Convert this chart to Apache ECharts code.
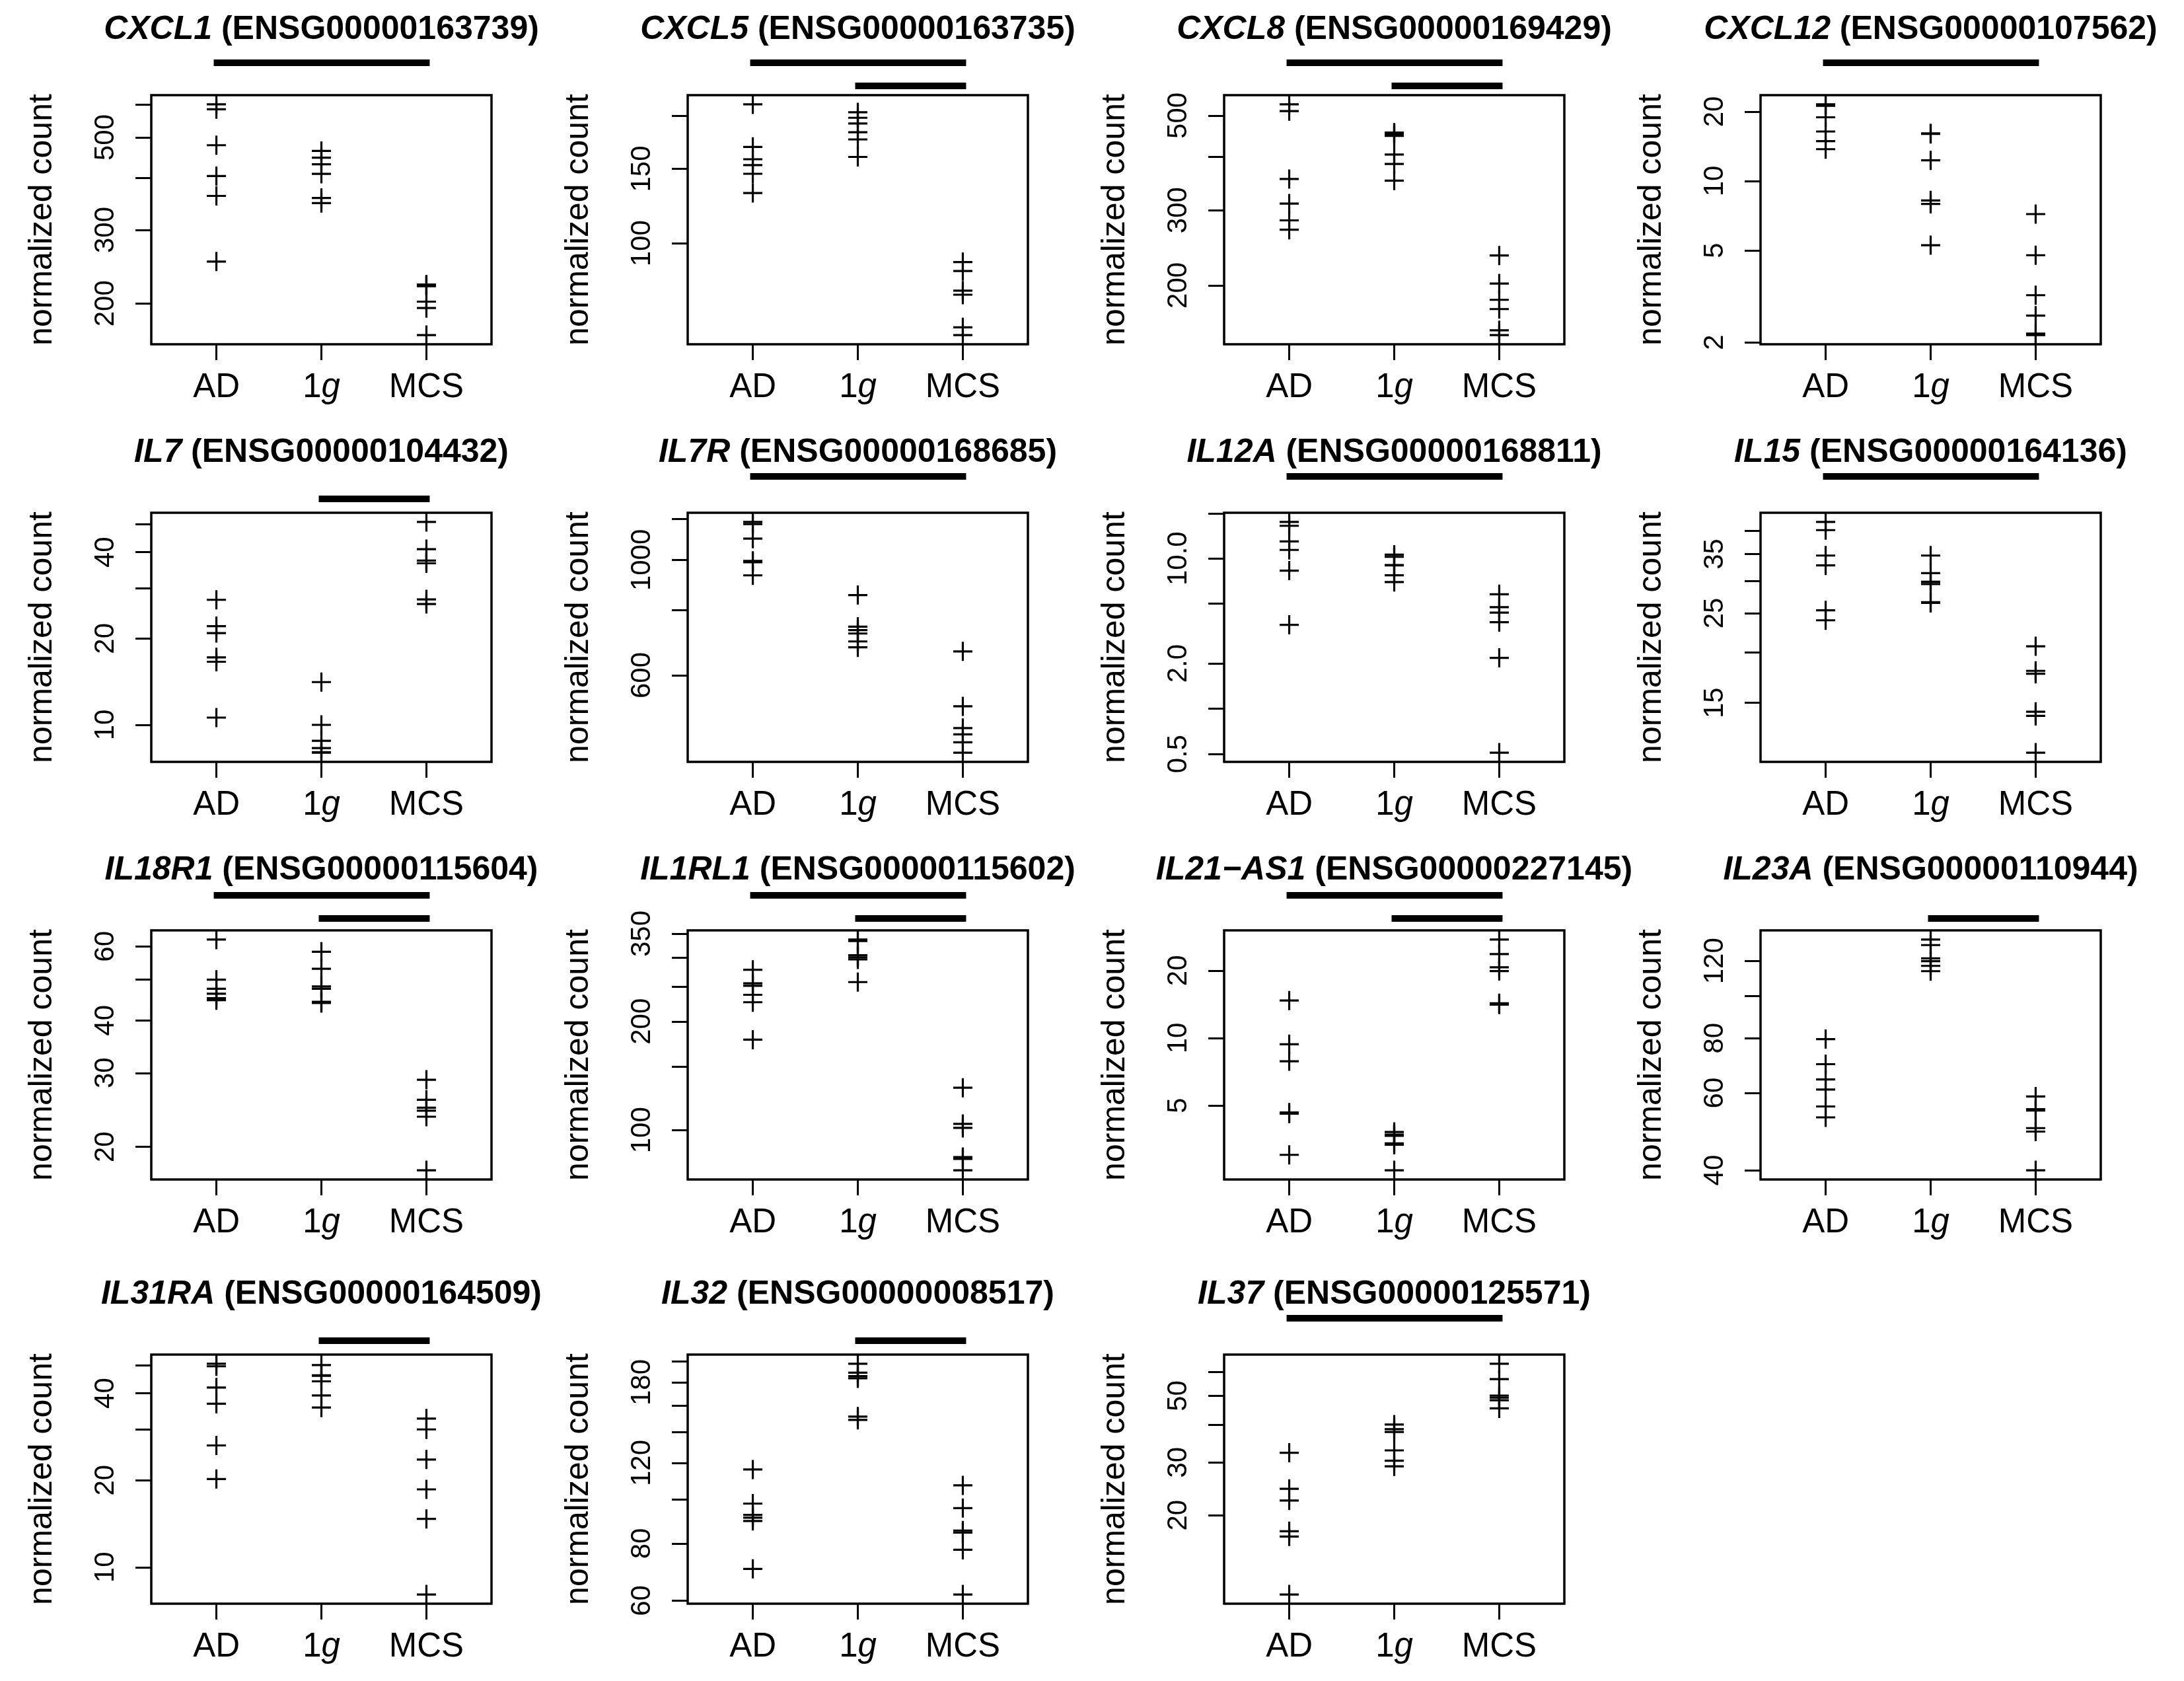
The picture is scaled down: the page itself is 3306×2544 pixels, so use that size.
<!DOCTYPE html>
<html><head><meta charset="utf-8">
<script src="https://cdn.jsdelivr.net/npm/echarts@6/dist/echarts.min.js"></script>
<style>html,body{margin:0;padding:0;background:#fff}#c{width:3306px;height:2544px}</style>
</head><body><div id="c"></div>
<script>
// ---------- data ----------
const groups = ['AD', '1g', 'MCS'];
const genes = ['CXCL1','CXCL5','CXCL8','CXCL12','IL7','IL7R','IL12A','IL15',
               'IL18R1','IL1RL1','IL21\u2212AS1','IL23A','IL31RA','IL32','IL37'];
const ensemblIds = ['ENSG00000163739','ENSG00000163735','ENSG00000169429','ENSG00000107562',
                    'ENSG00000104432','ENSG00000168685','ENSG00000168811','ENSG00000164136',
                    'ENSG00000115604','ENSG00000115602','ENSG00000227145','ENSG00000110944',
                    'ENSG00000164509','ENSG00000008517','ENSG00000125571'];
const adCounts = [
  [600, 584, 479, 404, 362, 252],
  [213, 169, 158, 153, 146, 131.5],
  [531, 512, 355, 311, 284, 270],
  [21.5, 21.2, 18.9, 16.4, 14.9, 13.75],
  [27.3, 22.1, 20.9, 17.2, 16.6, 10.6],
  [1183, 1172, 1099, 996, 990, 934],
  [17.5, 16.5, 13.0, 11.4, 8.3, 3.62],
  [42.0, 40.1, 34.7, 32.8, 25.4, 24.0],
  [62.3, 50.0, 47.6, 46.3, 45.2, 44.7],
  [278, 255, 251, 237, 226, 178],
  [14.7, 9.38, 7.88, 4.65, 4.6, 3.01],
  [79.6, 69.8, 64.4, 61.1, 55.9, 52.8],
  [50.6, 49.6, 41.9, 36.8, 26.4, 20.2],
  [116.1, 97.8, 92.4, 91.1, 89.6, 70.4],
  [32.3, 24.5, 22.4, 17.7, 17.0, 10.9]
];
const oneGCounts = [
  [464, 447, 431, 409, 358, 348],
  [204, 198, 192, 183, 176, 160],
  [456, 453, 448, 405, 385, 352],
  [16.1, 16.0, 12.3, 8.24, 7.96, 5.27],
  [14.1, 10.0, 8.8, 8.3, 8.03, 8.0],
  [856, 744, 733, 722, 697, 679],
  [10.6, 10.25, 9.05, 9.0, 7.73, 6.97],
  [34.7, 31.4, 29.9, 29.5, 26.6, 26.5],
  [58.3, 53.1, 48.2, 47.6, 44.3, 44.0],
  [337, 334, 305, 301, 297, 257],
  [3.81, 3.71, 3.66, 3.39, 3.34, 2.57],
  [134.2, 130.4, 121.6, 119.8, 116.9, 113.7],
  [50.1, 46.2, 46.0, 44.0, 39.3, 35.7],
  [197.6, 189, 185.7, 183.7, 151.5, 149.0],
  [40.1, 38.7, 37.9, 32.9, 30.4, 29.1]
];
const mcsCounts = [
  [222, 221, 220, 202, 195, 168],
  [90.3, 86, 77.3, 75.6, 63.3, 60.7],
  [235, 202, 185, 176, 157, 153],
  [7.19, 4.77, 3.20, 2.61, 2.18, 2.15],
  [51.0, 41.0, 37.4, 36.6, 27.4, 26.4],
  [667, 523, 475, 462, 446, 426],
  [5.78, 4.74, 4.36, 3.77, 2.18, 0.51],
  [20.7, 18.0, 17.7, 14.26, 13.93, 11.3],
  [28.9, 25.9, 24.8, 24.4, 23.6, 17.6],
  [131, 104, 101.4, 84.2, 83.2, 77.4],
  [27.5, 23.7, 20.7, 19.9, 14.3, 14.1],
  [58.9, 55.1, 54.7, 49.9, 49.0, 40.0],
  [32.7, 30.0, 23.6, 18.6, 14.7, 8.05],
  [107.2, 95.6, 85.4, 84.5, 77.5, 61.9],
  [63.9, 56.8, 50.1, 49.3, 48.3, 45.4]
];
const yTicks = [
  [200,300,400,500,600], [100,150,200], [200,300,400,500], [2,5,10,20],
  [10,20,30,40,50], [600,800,1000,1200], [0.5,1,2,5,10,20], [15,20,25,30,35,40],
  [20,30,40,50,60], [100,150,200,250,300,350], [5,10,20], [40,60,80,100,120],
  [10,20,30,40,50], [60,80,100,120,140,160,180,200], [20,30,40,50,60]
];
const yTickLabels = [
  ['200','300','500'], ['100','150'], ['200','300','500'], ['2','5','10','20'],
  ['10','20','40'], ['600','1000'], ['0.5','2.0','10.0'], ['15','25','35'],
  ['20','30','40','60'], ['100','200','350'], ['5','10','20'], ['40','60','80','120'],
  ['10','20','40'], ['60','80','120','180'], ['20','30','50']
];
// significance bars: [from group, to group] (1 = AD, 2 = 1g, 3 = MCS)
const sigBars = [
  [[1,3]], [[1,3],[2,3]], [[1,3],[2,3]], [[1,3]],
  [[2,3]], [[1,3]], [[1,3]], [[1,3]],
  [[1,3],[2,3]], [[1,3],[2,3]], [[1,3],[2,3]], [[2,3]],
  [[2,3]], [[2,3]], [[1,3]]
];

// ---------- layout ----------
const colLeft = [229, 1041, 1853, 2665];
const rowTop = [144, 776, 1408, 2050];
const titleOffset = [99, 91, 91, 91];
const upperBarOffset = [49, 55, 53, 55];
const lowerBarOffset = [14, 21, 18, 21];
const gridW = 515, gridH = 377;
const FONT = 'Liberation Sans, Arial, Helvetica, sans-serif';

const grids = [], xAxes = [], yAxes = [], series = [], titles = [];
const lg = v => Math.log10(v);

genes.forEach((gene, i) => {
  const r = Math.floor(i / 4), c = i % 4;
  const left = colLeft[c], top = rowTop[r];
  grids.push({left: left, top: top, width: gridW, height: gridH, show: true,
    borderColor: '#000', borderWidth: 3.5, backgroundColor: 'transparent', containLabel: false});

  const all = adCounts[i].concat(oneGCounts[i], mcsCounts[i]).map(lg);
  const lo = Math.min(...all), hi = Math.max(...all), pad = (hi - lo) * 0.04;
  const labelVals = yTickLabels[i].map(s => lg(parseFloat(s)));

  xAxes.push({gridIndex: i, type: 'value', min: 0.38, max: 3.62, position: 'bottom',
    axisLine: {show: false, onZero: false}, splitLine: {show: false},
    axisTick: {show: true, customValues: [1,2,3], length: 24, lineStyle: {color: '#000', width: 3}},
    axisLabel: {show: true, customValues: [1,2,3], margin: 40, color: '#000', fontSize: 51, fontFamily: FONT,
      formatter: v => v === 2 ? '1{i|g}' : groups[Math.round(v) - 1],
      rich: {i: {fontStyle: 'italic', fontSize: 51, fontFamily: FONT, color: '#000'}}}
  });
  yAxes.push({gridIndex: i, type: 'value', min: lo - pad, max: hi + pad,
    name: 'normalized count', nameLocation: 'middle', nameGap: 140,
    nameTextStyle: {fontSize: 50, fontFamily: FONT, color: '#000'},
    axisLine: {show: false, onZero: false}, splitLine: {show: false},
    axisTick: {show: true, customValues: yTicks[i].map(lg), length: 24, lineStyle: {color: '#000', width: 3}},
    axisLabel: {show: true, customValues: labelVals, rotate: 90, margin: 48, color: '#000', fontSize: 42, fontFamily: FONT,
      formatter: v => {
        let best = 0, bd = Infinity;
        labelVals.forEach((lv, k) => { const d = Math.abs(lv - v); if (d < bd) { bd = d; best = k; } });
        return yTickLabels[i][best];
      }}
  });

  const pts = [];
  [adCounts[i], oneGCounts[i], mcsCounts[i]].forEach((arr, g) => arr.forEach(v => pts.push([g + 1, lg(v)])));
  series.push({type: 'scatter', xAxisIndex: i, yAxisIndex: i, data: pts,
    symbol: 'path://M-0.055,-0.5H0.055V-0.055H0.5V0.055H0.055V0.5H-0.055V0.055H-0.5V-0.055H-0.055Z',
    symbolSize: 29, itemStyle: {color: '#000', opacity: 1}, silent: true});

  const upOff = upperBarOffset[r], lowOff = lowerBarOffset[r];
  series.push({type: 'custom', xAxisIndex: i, yAxisIndex: i, clip: false, silent: true,
    data: sigBars[i].map(b => [b[0], b[1]]),
    encode: {x: [0, 1]},
    renderItem: (params, api) => {
      const f = api.value(0), t = api.value(1);
      const x1 = api.coord([f, lo])[0], x2 = api.coord([t, lo])[0];
      const gtop = params.coordSys.y;
      const yc = gtop - (f === 1 ? upOff : lowOff);
      return {type: 'rect', shape: {x: x1 - 4, y: yc - 5, width: x2 - x1 + 9, height: 10},
        style: {fill: '#000'}};
    }
  });

  titles.push({text: '{i|' + gene + '}{b| (' + ensemblIds[i] + ')}',
    left: left + gridW / 2, top: top - titleOffset[r] - 28, textAlign: 'center', padding: 0,
    textStyle: {fontSize: 50, fontWeight: 'bold', fontFamily: FONT, rich: {
      i: {fontStyle: 'italic', fontWeight: 'bold', fontSize: 50, fontFamily: FONT, color: '#000', lineHeight: 56},
      b: {fontWeight: 'bold', fontSize: 50, fontFamily: FONT, color: '#000', lineHeight: 56}
    }}
  });
});

const chart = echarts.init(document.getElementById('c'), null, {renderer: 'canvas', width: 3306, height: 2544});
chart.setOption({
  backgroundColor: '#fff', animation: false,
  title: titles, grid: grids, xAxis: xAxes, yAxis: yAxes, series: series
});
</script></body></html>
